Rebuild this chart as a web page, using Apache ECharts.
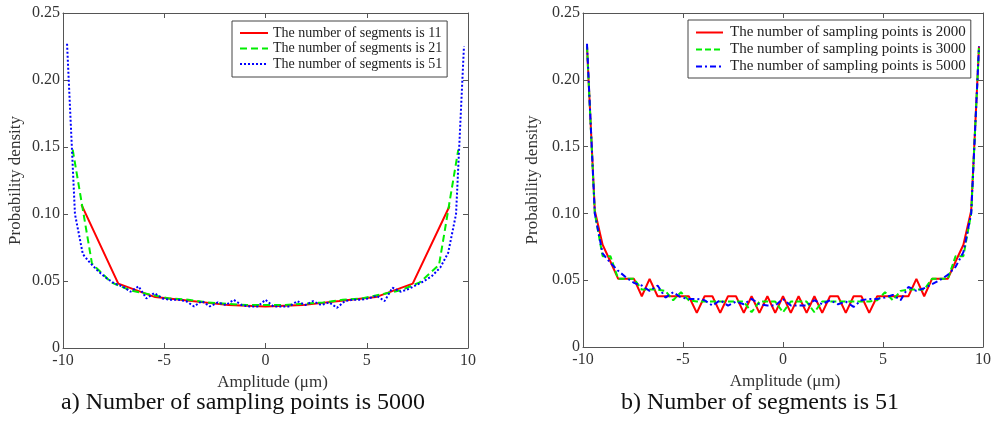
<!DOCTYPE html>
<html>
<head>
<meta charset="utf-8">
<script src="https://cdn.jsdelivr.net/npm/echarts@6/dist/echarts.min.js"></script>
<style>html,body{margin:0;padding:0;background:#fff;}#c{width:1000px;height:421px;}</style>
</head>
<body>
<div id="c"></div>
<script>
// ---- data ----
var xs11 = [-9.09,-7.27,-5.45,-3.64,-1.82,0,1.82,3.64,5.45,7.27,9.09];
var xs21 = [-9.52,-8.57,-7.62,-6.67,-5.71,-4.76,-3.81,-2.86,-1.90,-0.95,0,0.95,1.90,2.86,3.81,4.76,5.71,6.67,7.62,8.57,9.52];
var xs51 = [-9.80,-9.41,-9.02,-8.63,-8.24,-7.84,-7.45,-7.06,-6.67,-6.27,-5.88,-5.49,-5.10,-4.71,-4.31,-3.92,-3.53,-3.14,-2.75,-2.35,-1.96,-1.57,-1.18,-0.78,-0.39,0,0.39,0.78,1.18,1.57,1.96,2.35,2.75,3.14,3.53,3.92,4.31,4.71,5.10,5.49,5.88,6.27,6.67,7.06,7.45,7.84,8.24,8.63,9.02,9.41,9.80];

var seg11 = [0.107,0.048,0.038,0.035,0.032,0.031,0.032,0.035,0.038,0.048,0.106];
var seg21 = [0.148,0.063,0.049,0.043,0.040,0.037,0.036,0.034,0.033,0.032,0.032,0.032,0.033,0.034,0.036,0.037,0.040,0.043,0.049,0.062,0.148];
var seg51 = [0.227,0.100,0.070,0.063,0.057,0.052,0.048,0.046,0.042,0.046,0.037,0.041,0.037,0.036,0.036,0.035,0.031,0.035,0.031,0.034,0.032,0.036,0.032,0.031,0.031,0.036,0.031,0.031,0.031,0.035,0.032,0.035,0.032,0.034,0.030,0.035,0.036,0.036,0.037,0.039,0.035,0.045,0.042,0.044,0.047,0.050,0.054,0.060,0.071,0.100,0.225];

var pts2000 = [0.225,0.102,0.0765,0.064,0.051,0.051,0.051,0.038,0.051,0.038,0.038,0.038,0.038,0.038,0.0255,0.038,0.038,0.0255,0.038,0.038,0.0255,0.038,0.0255,0.038,0.0255,0.038,
               0.0255,0.038,0.0255,0.038,0.0255,0.038,0.038,0.0255,0.038,0.038,0.0255,0.038,0.038,0.038,0.038,0.038,0.051,0.038,0.051,0.051,0.051,0.064,0.0765,0.102,0.225];
var pts3000 = [0.225,0.100,0.068,0.068,0.051,0.051,0.051,0.043,0.043,0.043,0.042,0.035,0.041,0.035,0.034,0.034,0.034,0.034,0.034,0.034,0.034,0.026,0.034,0.034,0.034,0.026,
               0.034,0.034,0.034,0.026,0.034,0.034,0.034,0.034,0.034,0.034,0.034,0.035,0.041,0.035,0.042,0.043,0.043,0.043,0.051,0.051,0.051,0.068,0.068,0.100,0.225];
var pts5000 = seg51;

var xTicks = [-10,-5,0,5,10];
var yTicks = ['0','0.05','0.10','0.15','0.20','0.25'];

var namesL = ['The number of segments is 11','The number of segments is 21','The number of segments is 51'];
var namesR = ['The number of sampling points is 2000','The number of sampling points is 3000','The number of sampling points is 5000'];

// ---- helpers ----
var FONT = '"Liberation Serif","Times New Roman",serif';
function pairs(xs, ys){ return xs.map(function(x,i){ return [x, ys[i]]; }); }
function yFmt(v){ var s = v === 0 ? '0' : v.toFixed(2); return yTicks.indexOf(s) >= 0 ? s : ''; }

var AXC = '#555';
function xAx(grid, pos, showLabel){
  return {type:'value', gridIndex:grid, position:pos, min:-10, max:10, interval:5,
    axisLine:{show:true, onZero:false, lineStyle:{color:AXC, width:1}},
    axisTick:{show:true, inside:true, length:5, lineStyle:{color:AXC}},
    axisLabel:{show:showLabel, margin:5, color:'#333', fontFamily:FONT, fontSize:16},
    splitLine:{show:false}};
}
function yAx(grid, pos, showLabel){
  return {type:'value', gridIndex:grid, position:pos, min:0, max:0.25, interval:0.05,
    axisLine:{show:true, onZero:false, lineStyle:{color:AXC, width:1}},
    axisTick:{show:true, inside:true, length:5, lineStyle:{color:AXC}},
    axisLabel:{show:showLabel, margin:3, color:'#333', fontFamily:FONT, fontSize:16, formatter:yFmt},
    splitLine:{show:false}};
}

var xAxes = [xAx(0,'bottom',true), xAx(0,'top',false), xAx(1,'bottom',true), xAx(1,'top',false)];
var yAxes = [yAx(0,'left',true), yAx(0,'right',false), yAx(1,'left',true), yAx(1,'right',false)];
xAxes[0].name = 'Amplitude (\u03bcm)'; xAxes[0].nameLocation='middle'; xAxes[0].nameGap=23;
xAxes[0].nameTextStyle = {fontFamily:FONT, fontSize:17, color:'#333', padding:[0,0,0,14]};
xAxes[2].name = 'Amplitude (\u03bcm)'; xAxes[2].nameLocation='middle'; xAxes[2].nameGap=23;
xAxes[2].nameTextStyle = {fontFamily:FONT, fontSize:17, color:'#333', padding:[0,0,0,4]};
yAxes[0].name = 'Probability density'; yAxes[0].nameLocation='middle'; yAxes[0].nameGap=39;
yAxes[0].nameTextStyle = {fontFamily:FONT, fontSize:17, color:'#333'};
yAxes[2].name = 'Probability density'; yAxes[2].nameLocation='middle'; yAxes[2].nameGap=42;
yAxes[2].nameTextStyle = {fontFamily:FONT, fontSize:17, color:'#333'};

function line(name, xi, yi, data, color, type){
  return {type:'line', name:name, xAxisIndex:xi, yAxisIndex:yi, data:data, symbol:'none', showSymbol:false,
    lineStyle:{color:color, width:2, type:type}, itemStyle:{color:color}, animation:false};
}

var legendBase = {orient:'vertical', borderColor:'#444', borderWidth:1, backgroundColor:'#fff',
  selectedMode:false, itemStyle:{opacity:0, borderWidth:0}};
function legend(extra){ var o = {}; for (var k in legendBase) o[k]=legendBase[k]; for (var k2 in extra) o[k2]=extra[k2]; return o; }

var option = {
  animation:false,
  grid:[{left:63, top:13, width:405, height:335}, {left:583, top:13, width:400, height:334}],
  xAxis:xAxes, yAxis:yAxes,
  legend:[
    legend({data:namesL, left:232, top:21, itemWidth:28, itemHeight:14, itemGap:1.5, padding:[5,5,6,7],
     textStyle:{fontFamily:FONT, fontSize:14, color:'#222'}}),
    legend({data:namesR, left:688, top:20, itemWidth:27, itemHeight:15, itemGap:2, padding:[5,5,4,7],
     textStyle:{fontFamily:FONT, fontSize:15, color:'#222', padding:[0,0,0,2]}})
  ],
  series:[
    line(namesL[0],0,0,pairs(xs11,seg11),'#ff0000','solid'),
    line(namesL[1],0,0,pairs(xs21,seg21),'#00ee00',[7,4]),
    line(namesL[2],0,0,pairs(xs51,seg51),'#0000ff',[2,2]),
    line(namesR[0],2,2,pairs(xs51,pts2000),'#ff0000','solid'),
    line(namesR[1],2,2,pairs(xs51,pts3000),'#00ee00',[6,3]),
    line(namesR[2],2,2,pairs(xs51,pts5000),'#0000ff',[6,3,2,3])
  ],
  graphic:[
    {type:'text', x:243, y:403, style:{text:'a) Number of sampling points is 5000', fontFamily:FONT, fontSize:24, fill:'#111', textAlign:'center', textVerticalAlign:'middle'}},
    {type:'text', x:760, y:403, style:{text:'b) Number of segments is 51', fontFamily:FONT, fontSize:24, fill:'#111', textAlign:'center', textVerticalAlign:'middle'}}
  ]
};
var chart = echarts.init(document.getElementById('c'), null, {renderer:'canvas'});
chart.setOption(option);
</script>
</body>
</html>
